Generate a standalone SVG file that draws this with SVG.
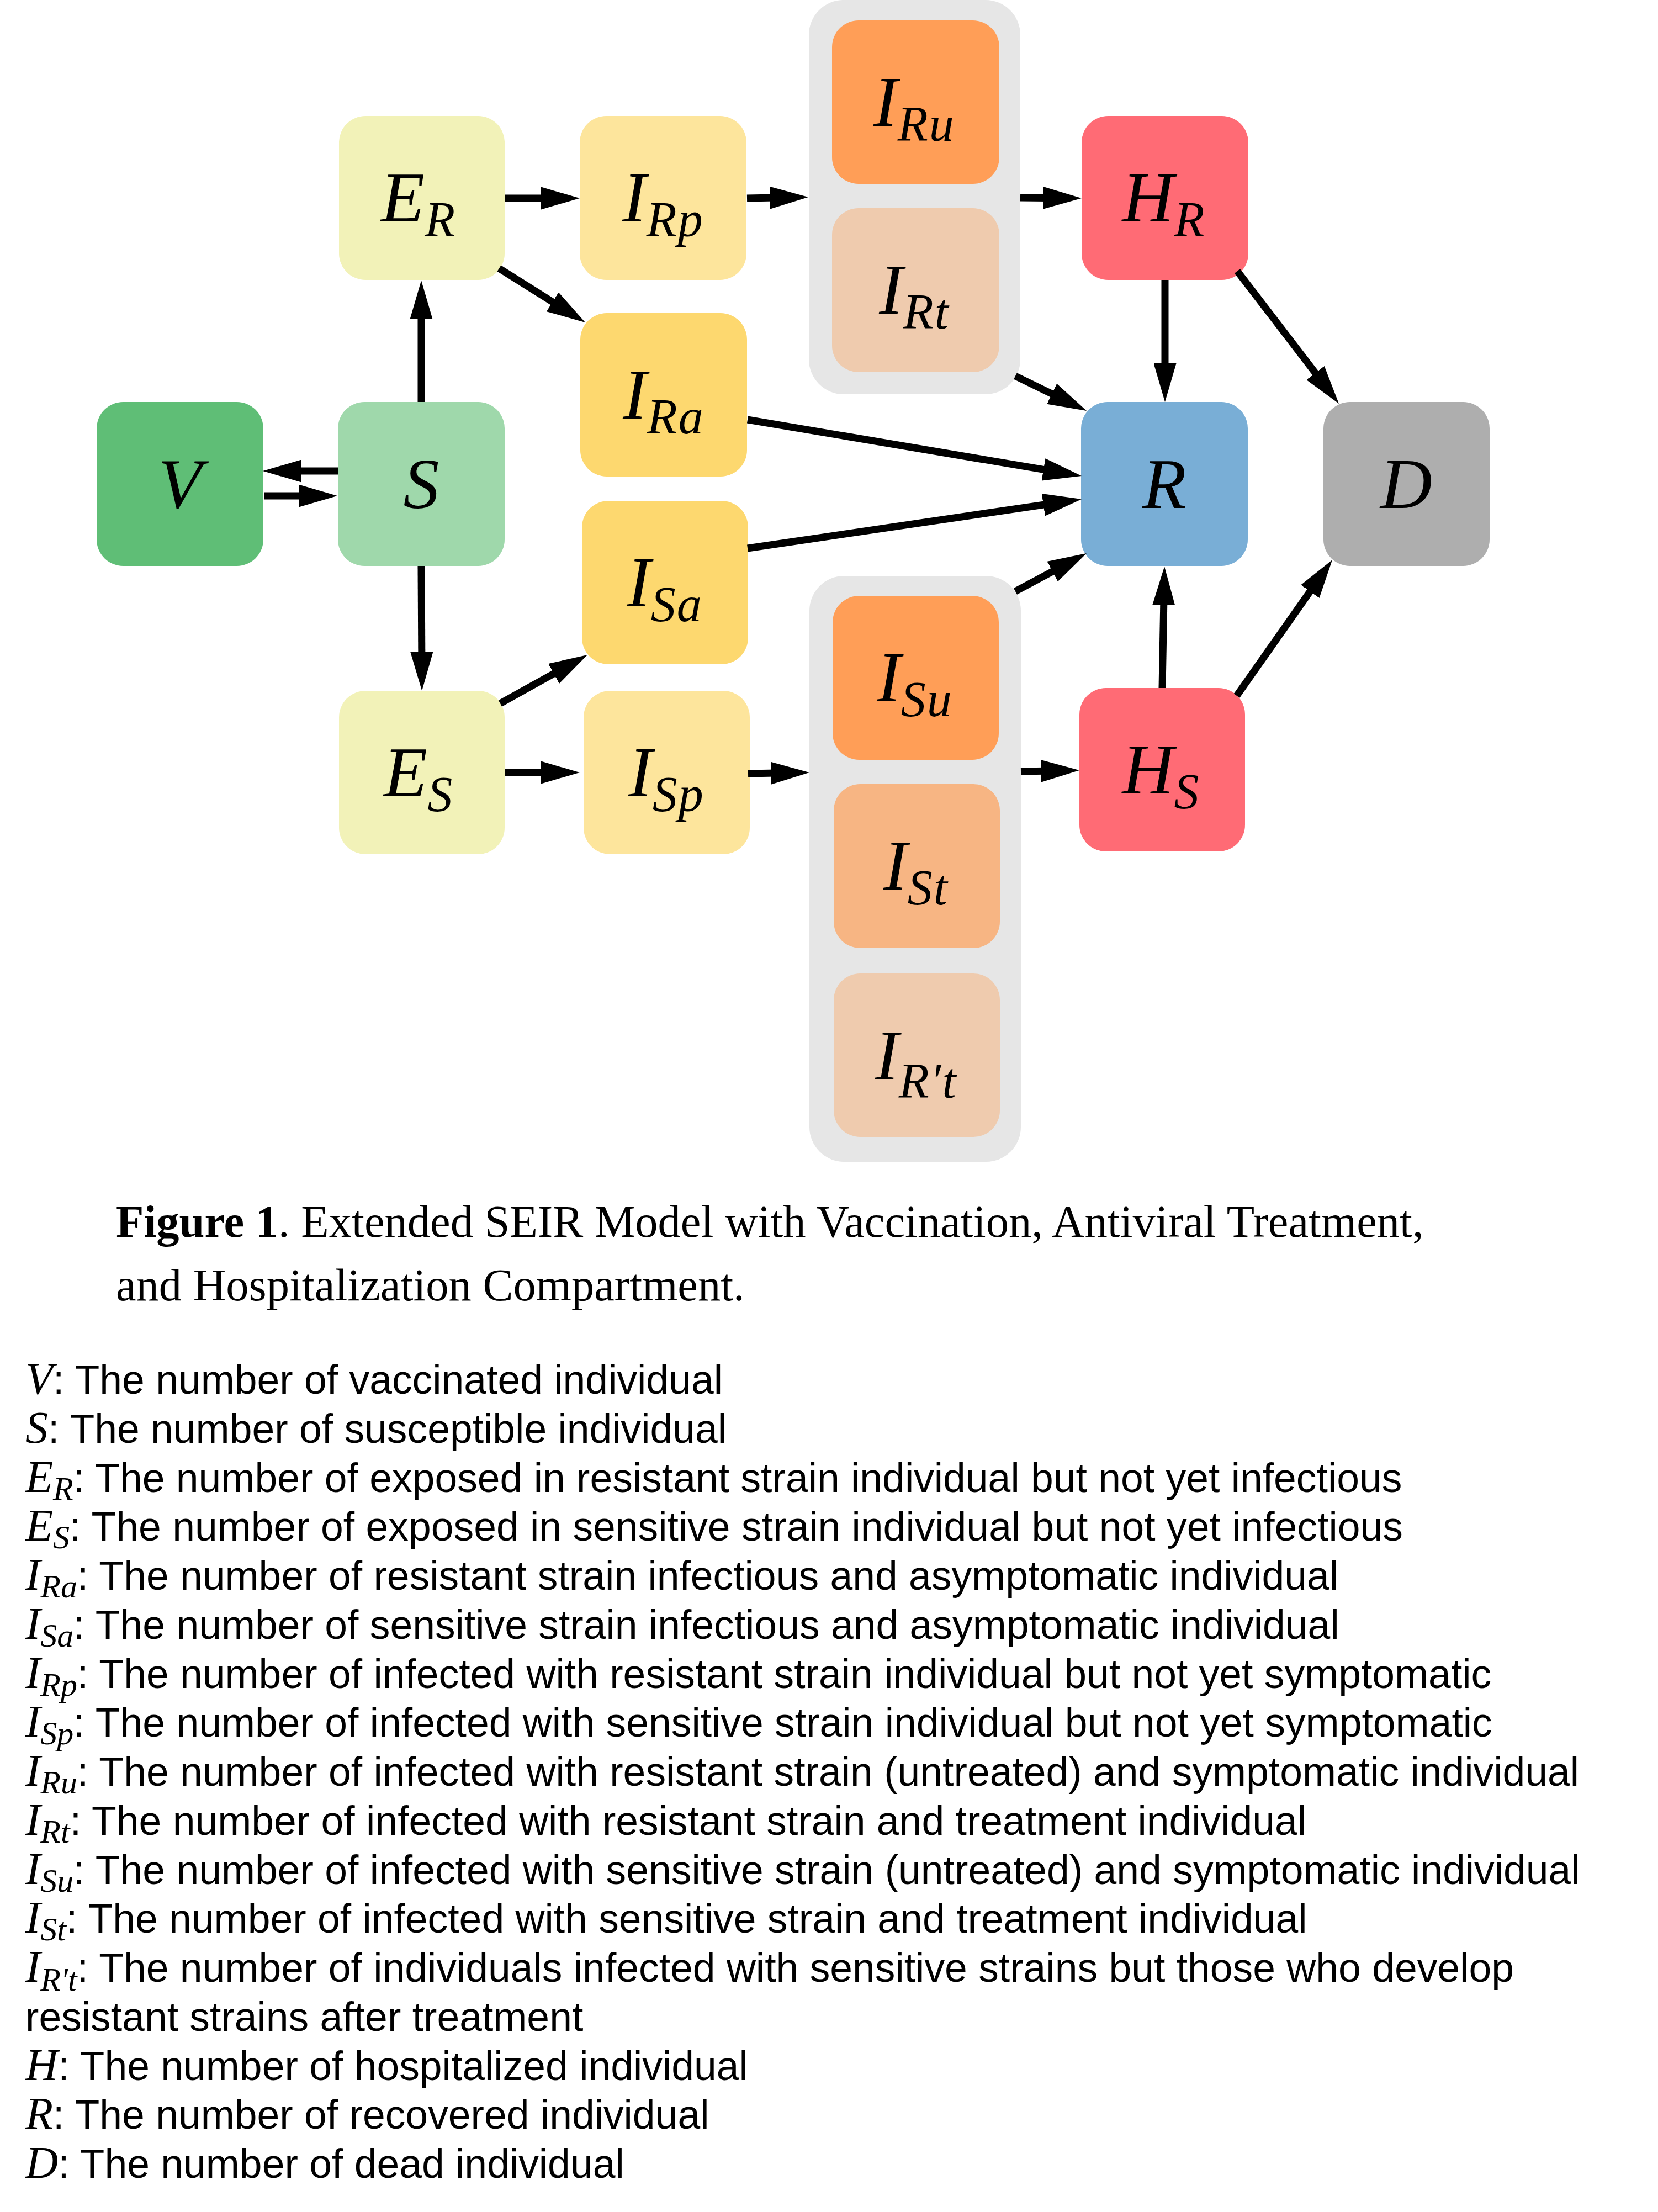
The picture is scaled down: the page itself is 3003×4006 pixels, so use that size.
<svg xmlns="http://www.w3.org/2000/svg" width="3003" height="4006" viewBox="0 0 3003 4006">
<style>
.box{rx:48px;ry:48px}
.grp{fill:#E6E6E6}
.lbl{font-family:"Liberation Serif","Times New Roman",serif;font-style:italic;font-size:130px;fill:#000;text-anchor:middle}
.sub{font-size:90px;letter-spacing:2px}
.con{stroke:#000;stroke-width:13;fill:none;marker-end:url(#ah)}
.cap{font-family:"Liberation Serif","Times New Roman",serif;font-size:82.5px;fill:#000}
.leg{font-family:"Liberation Sans",Arial,sans-serif;font-size:73.3px;fill:#000}
.m{font-family:"Liberation Serif","Times New Roman",serif;font-style:italic;font-size:82px}
.ms{font-family:"Liberation Serif","Times New Roman",serif;font-style:italic;font-size:60px}
</style>
<defs>
<marker id="ah" markerUnits="userSpaceOnUse" markerWidth="70" markerHeight="41" refX="35" refY="20.5" orient="auto" viewBox="0 0 70 41">
<path d="M0,0 L70,20.5 L0,41 z" fill="#000"/>
</marker>
</defs>
<rect width="3003" height="4006" fill="#fff"/>
<g id="group-R">
<rect class="grp" x="1465" y="0" width="383" height="714" rx="63" ry="63"/>
</g>
<g id="group-S">
<rect class="grp" x="1466" y="1043" width="383" height="1061" rx="63" ry="63"/>
</g>
<g id="node-V"><rect class="box" x="175" y="728" width="302" height="297" fill="#5FBE76"/><text class="lbl" x="326" y="920">V</text></g>
<g id="node-S"><rect class="box" x="612" y="728" width="302" height="297" fill="#9FD8AB"/><text class="lbl" x="763" y="920">S</text></g>
<g id="node-ER"><rect class="box" x="614" y="210" width="300" height="297" fill="#F2F2B8"/><text class="lbl" x="758" y="401">E<tspan class="sub" dy="27">R</tspan></text></g>
<g id="node-ES"><rect class="box" x="614" y="1251" width="300" height="296" fill="#F2F2B8"/><text class="lbl" x="758" y="1442">E<tspan class="sub" dy="27">S</tspan></text></g>
<g id="node-IRp"><rect class="box" x="1050" y="210" width="302" height="297" fill="#FDE59C"/><text class="lbl" x="1201" y="401">I<tspan class="sub" dy="27">Rp</tspan></text></g>
<g id="node-IRa"><rect class="box" x="1051" y="567" width="302" height="296" fill="#FDD86F"/><text class="lbl" x="1202" y="758">I<tspan class="sub" dy="27">Ra</tspan></text></g>
<g id="node-ISa"><rect class="box" x="1054" y="907" width="301" height="296" fill="#FDD86F"/><text class="lbl" x="1204" y="1098">I<tspan class="sub" dy="27">Sa</tspan></text></g>
<g id="node-ISp"><rect class="box" x="1057" y="1251" width="301" height="296" fill="#FDE59C"/><text class="lbl" x="1207" y="1442">I<tspan class="sub" dy="27">Sp</tspan></text></g>
<g id="node-IRu"><rect class="box" x="1507" y="37" width="303" height="296" fill="#FF9E57"/><text class="lbl" x="1656" y="228">I<tspan class="sub" dy="27">Ru</tspan></text></g>
<g id="node-IRt"><rect class="box" x="1507" y="377" width="303" height="297" fill="#EFCBAE"/><text class="lbl" x="1656" y="568">I<tspan class="sub" dy="27">Rt</tspan></text></g>
<g id="node-ISu"><rect class="box" x="1508" y="1079" width="301" height="297" fill="#FF9E57"/><text class="lbl" x="1657" y="1270">I<tspan class="sub" dy="27">Su</tspan></text></g>
<g id="node-ISt"><rect class="box" x="1510" y="1420" width="301" height="297" fill="#F7B583"/><text class="lbl" x="1659" y="1611">I<tspan class="sub" dy="27">St</tspan></text></g>
<g id="node-IRpt"><rect class="box" x="1510" y="1763" width="301" height="296" fill="#EFCBAE"/><text class="lbl" x="1659" y="1955">I<tspan class="sub" dy="33">R′t</tspan></text></g>
<g id="node-HR"><rect class="box" x="1959" y="210" width="302" height="297" fill="#FF6B75"/><text class="lbl" x="2108" y="401">H<tspan class="sub" dy="27">R</tspan></text></g>
<g id="node-HS"><rect class="box" x="1955" y="1246" width="300" height="296" fill="#FF6B75"/><text class="lbl" x="2103" y="1437">H<tspan class="sub" dy="27">S</tspan></text></g>
<g id="node-R"><rect class="box" x="1958" y="728" width="302" height="297" fill="#79AED6"/><text class="lbl" x="2109" y="920">R</text></g>
<g id="node-D"><rect class="box" x="2397" y="728" width="301" height="297" fill="#AEAEAE"/><text class="lbl" x="2547" y="920">D</text></g>
<g id="connectors">
<path class="con" d="M763,728 L763,543"/>
<path class="con" d="M612,853 L511,853"/>
<path class="con" d="M478,898 L576,898"/>
<path class="con" d="M763,1025 L764,1216"/>
<path class="con" d="M915,359 L1015,359"/>
<path class="con" d="M904,486 L1030.4,565.4"/>
<path class="con" d="M1353,359 L1429,357.6"/>
<path class="con" d="M1848,358 L1924,358.7"/>
<path class="con" d="M2110,507 L2110,693"/>
<path class="con" d="M2241,491 L2403.7,703.2"/>
<path class="con" d="M1839,681 L1936.6,728.6"/>
<path class="con" d="M1354,760 L1924.5,856.2"/>
<path class="con" d="M1354,993 L1924.4,909.1"/>
<path class="con" d="M1839,1071 L1937.1,1018.5"/>
<path class="con" d="M2105,1246 L2108.4,1061"/>
<path class="con" d="M2240,1260 L2392.9,1042.6"/>
<path class="con" d="M906,1274 L1033.4,1203"/>
<path class="con" d="M915,1399 L1015,1399"/>
<path class="con" d="M1355,1401 L1431,1399.6"/>
<path class="con" d="M1849,1397 L1920,1395.7"/>
</g>
<g id="caption">
<text class="cap" x="210" y="2240"><tspan font-weight="bold">Figure 1</tspan>. Extended SEIR Model with Vaccination, Antiviral Treatment,</text>
<text class="cap" x="210" y="2355">and Hospitalization Compartment.</text>
</g>
<g id="legend" class="leg">
<text x="46" y="2524"><tspan class="m">V</tspan>: The number of vaccinated individual</text>
<text x="46" y="2612.75"><tspan class="m">S</tspan>: The number of susceptible individual</text>
<text x="46" y="2701.5"><tspan class="m">E</tspan><tspan class="ms" dy="14">R</tspan><tspan dy="-14">: The number of exposed in resistant strain individual but not yet infectious</tspan></text>
<text x="46" y="2790.25"><tspan class="m">E</tspan><tspan class="ms" dy="14">S</tspan><tspan dy="-14">: The number of exposed in sensitive strain individual but not yet infectious</tspan></text>
<text x="46" y="2879"><tspan class="m">I</tspan><tspan class="ms" dy="14">Ra</tspan><tspan dy="-14">: The number of resistant strain infectious and asymptomatic individual</tspan></text>
<text x="46" y="2967.75"><tspan class="m">I</tspan><tspan class="ms" dy="14">Sa</tspan><tspan dy="-14">: The number of sensitive strain infectious and asymptomatic individual</tspan></text>
<text x="46" y="3056.5"><tspan class="m">I</tspan><tspan class="ms" dy="14">Rp</tspan><tspan dy="-14">: The number of infected with resistant strain individual but not yet symptomatic</tspan></text>
<text x="46" y="3145.25"><tspan class="m">I</tspan><tspan class="ms" dy="14">Sp</tspan><tspan dy="-14">: The number of infected with sensitive strain individual but not yet symptomatic</tspan></text>
<text x="46" y="3234"><tspan class="m">I</tspan><tspan class="ms" dy="14">Ru</tspan><tspan dy="-14">: The number of infected with resistant strain (untreated) and symptomatic individual</tspan></text>
<text x="46" y="3322.75"><tspan class="m">I</tspan><tspan class="ms" dy="14">Rt</tspan><tspan dy="-14">: The number of infected with resistant strain and treatment individual</tspan></text>
<text x="46" y="3411.5"><tspan class="m">I</tspan><tspan class="ms" dy="14">Su</tspan><tspan dy="-14">: The number of infected with sensitive strain (untreated) and symptomatic individual</tspan></text>
<text x="46" y="3500.25"><tspan class="m">I</tspan><tspan class="ms" dy="14">St</tspan><tspan dy="-14">: The number of infected with sensitive strain and treatment individual</tspan></text>
<text x="46" y="3589"><tspan class="m">I</tspan><tspan class="ms" dy="16">R′t</tspan><tspan dy="-16">: The number of individuals infected with sensitive strains but those who develop</tspan></text>
<text x="46" y="3677.75">resistant strains after treatment</text>
<text x="46" y="3766.5"><tspan class="m">H</tspan>: The number of hospitalized individual</text>
<text x="46" y="3855.25"><tspan class="m">R</tspan>: The number of recovered individual</text>
<text x="46" y="3944"><tspan class="m">D</tspan>: The number of dead individual</text>
</g>
</svg>
